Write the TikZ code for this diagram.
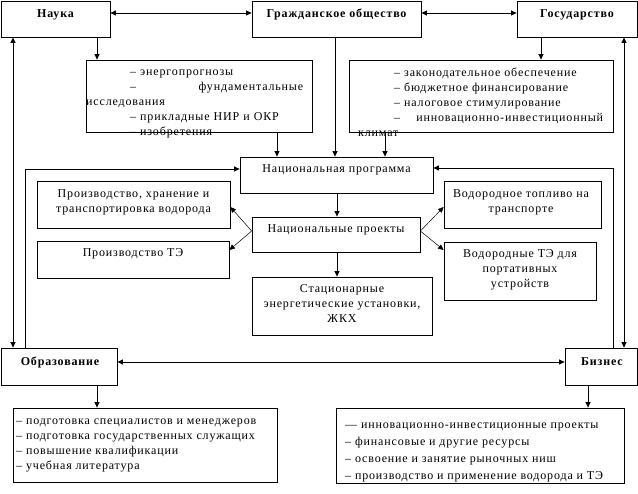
\documentclass[tikz,border=0pt]{standalone}
\usepackage{fontspec}
\setmainfont{Liberation Serif}[LetterSpace=7]
\usetikzlibrary{arrows.meta}
\newcommand\bx[5]{\node[boxs, minimum width=#4pt-#2pt, minimum height=#5pt-#3pt] (#1) at ({(#2+#4)/2},{(#3+#5)/2}) {};}
\tikzset{
 boxs/.style={draw, line width=0.8pt, inner sep=0pt},
 ln/.style={line width=0.9pt},
 arw/.style={-{Triangle[length=5.5pt,width=5pt]}},
 darw/.style={{Triangle[length=5.5pt,width=5pt]}-{Triangle[length=5.5pt,width=5pt]}},
 sarw/.style={line width=0.5pt, -{Triangle[length=5.5pt,width=5pt]}},
 txt/.style={inner sep=0pt, anchor=north, align=center, font=\fontsize{12}{15}\selectfont},
 ttl/.style={inner sep=0pt, anchor=north, font=\fontsize{12}{15}\selectfont\bfseries},
 lst/.style={inner sep=0pt, anchor=north west, align=left, font=\fontsize{12}{15}\selectfont},
}
\begin{document}
\begin{tikzpicture}[x=1pt,y=-1pt]
\fill[white] (0,0) rectangle (638,494);
\useasboundingbox (0,0) rectangle (638,494);
% boxes
\bx{nauka}{1}{1}{110}{37}
\bx{grazhd}{252}{1}{421}{37}
\bx{gos}{517}{1}{637}{37}
\bx{nlist}{86}{60}{312}{132}
\bx{glist}{349}{60}{613}{132}
\bx{natprog}{240}{157}{433}{193}
\bx{natproj}{252}{217}{420}{252}
\bx{stat}{252}{277}{432}{335}
\bx{vodprod}{37}{181}{230}{228}
\bx{teprod}{37}{241}{229}{278}
\bx{vodtr}{444}{181}{601}{228}
\bx{port}{444}{242}{596}{300}
\bx{obr}{1}{348}{117}{385}
\bx{biz}{565}{348}{637}{385}
\bx{elist}{13}{408}{277}{482}
\bx{blist}{336}{408}{624}{483}
% texts
\node[ttl] (tnauka) at (55.5,6.7) {\strut Наука};
\node[ttl] (tgrazhd) at (336.5,6.7) {\strut Гражданское общество};
\node[ttl] (tgos) at (577,6.7) {\strut Государство};
\node[ttl] (tobr) at (60,354.5) {\strut Образование};
\node[ttl] (tbiz) at (602,354.5) {\strut Бизнес};
\node[lst, text width=217pt] (tnlist) at (86,65.2) {\strut\hspace*{44pt}– энергопрогнозы\\
\hspace*{44pt}–\hfill фундаментальные\\
исследования\\
\hspace*{44pt}– прикладные НИР и ОКР\\
\hspace*{44pt}– изобретения};
\node[lst, text width=245pt] (tglist) at (358,66.2) {\strut\hspace*{36pt}– законодательное обеспечение\\
\hspace*{36pt}– бюджетное финансирование\\
\hspace*{36pt}– налоговое стимулирование\\
\hspace*{36pt}–\hfill \mbox{инновационно-инвестиционный}\\
климат};
\node[txt] (tnatprog) at (336.5,162.2) {\strut Национальная программа};
\node[txt] (tnatproj) at (336,222.2) {\strut Национальные проекты};
\node[txt] (tstat) at (342,282.2) {\strut Стационарные\\энергетические установки,\\ЖКХ};
\node[txt] (tvodprod) at (133.5,187.2) {\strut Производство, хранение и\\транспортировка водорода};
\node[txt] (tteprod) at (133,246.2) {\strut Производство ТЭ};
\node[txt] (tvodtr) at (521,187.2) {\strut Водородное топливо на\\транспорте};
\node[txt] (tport) at (520,247.2) {\strut Водородные ТЭ для\\портативных\\устройств};
\node[lst] (telist) at (16,414.2) {\strut– подготовка специалистов и менеджеров\\
– подготовка государственных служащих\\
– повышение квалификации\\
– учебная литература};
\node[lst, font=\fontsize{12}{17}\selectfont] (tblist) at (345,416.2) {\strut— инновационно-инвестиционные проекты\\
– финансовые и другие ресурсы\\
– освоение и занятие рыночных ниш\\
– производство и применение водорода и ТЭ};
% connectors
\draw[ln,darw] (nauka.east |- 0,13) -- (grazhd.west |- 0,13);
\draw[ln,darw] (grazhd.east |- 0,13) -- (gos.west |- 0,13);
\draw[ln,arw] (nauka.south -| 97,0) -- (nlist.north -| 97,0);
\draw[ln,arw] (gos.south -| 541,0) -- (glist.north -| 541,0);
\draw[ln,arw] (nlist.south -| 277,0) -- (natprog.north -| 277,0);
\draw[ln,arw] (grazhd.south -| 335,0) -- (natprog.north -| 335,0);
\draw[ln,arw] (glist.south -| 385,0) -- (natprog.north -| 385,0);
\draw[ln,arw] (natprog.south -| 337,0) -- (natproj.north -| 337,0);
\draw[ln,arw] (natproj.south -| 337,0) -- (stat.north -| 337,0);
\draw[sarw] (natproj.west |- 0,231) -- (vodprod.east |- 0,207);
\draw[sarw] (natproj.west |- 0,231) -- (teprod.east |- 0,250);
\draw[sarw] (natproj.east |- 0,231) -- (vodtr.west |- 0,207);
\draw[sarw] (natproj.east |- 0,231) -- (port.west |- 0,250);
\draw[ln,darw] (nauka.south -| 13,0) -- (obr.north -| 13,0);
\draw[ln,arw] (obr.north -| 25,0) |- (natprog.west |- 0,169);
\draw[ln,darw] (gos.south -| 624,0) -- (biz.north -| 624,0);
\draw[ln,arw] (biz.north -| 613,0) |- (natprog.east |- 0,168);
\draw[ln,darw] (obr.east |- 0,362) -- (biz.west |- 0,362);
\draw[ln,arw] (obr.south -| 97,0) -- (elist.north -| 97,0);
\draw[ln,arw] (biz.south -| 588,0) -- (blist.north -| 588,0);
\end{tikzpicture}
\end{document}
